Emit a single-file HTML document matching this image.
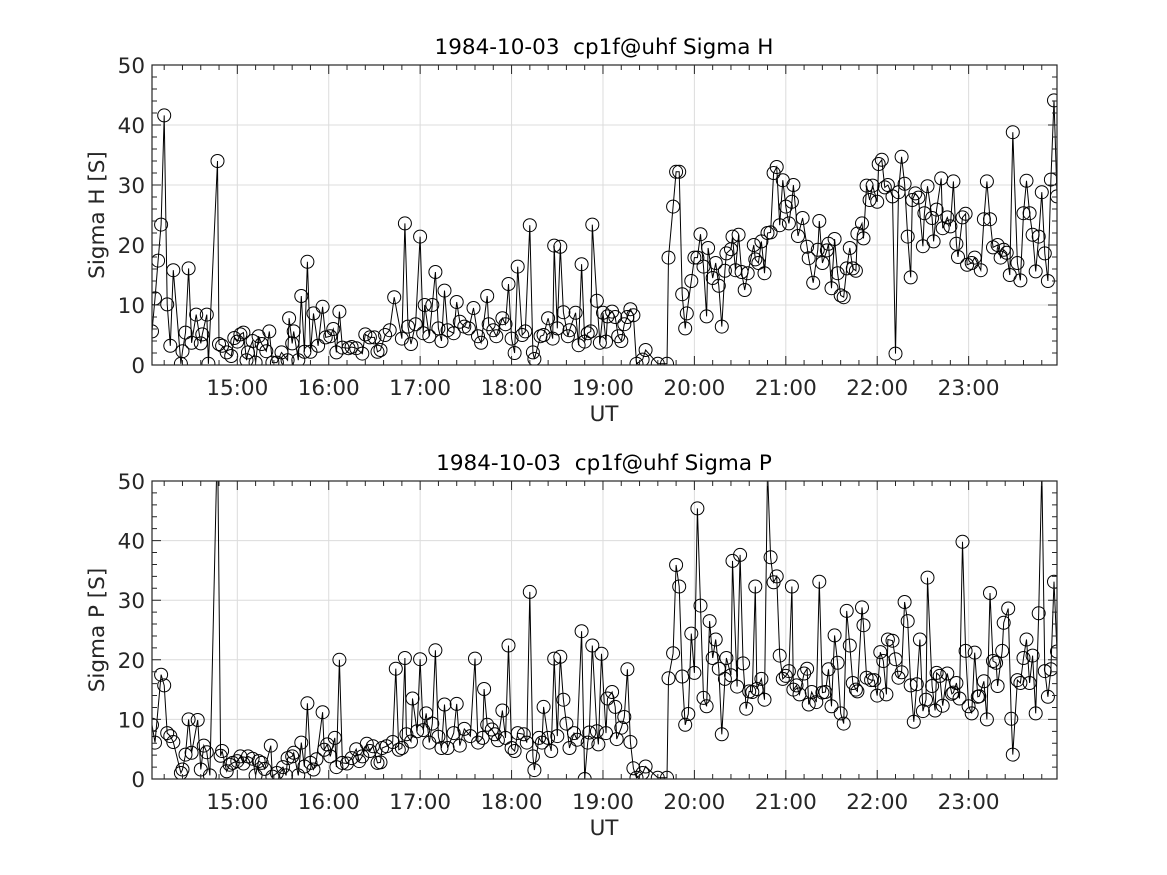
<!DOCTYPE html>
<html><head><meta charset="utf-8"><style>
html,body{margin:0;padding:0;background:#fff;}
svg{display:block;font-family:"DejaVu Sans","Liberation Sans",sans-serif;}
text{white-space:pre;}
</style></head><body>
<svg id="fig" width="1167" height="875" viewBox="0 0 1167 875" xmlns="http://www.w3.org/2000/svg"></svg>
<script>
// minutes since 14:00 UT
const timesH = [4,6,8,10,12,14,16,18,23,24,26,28,30,33,36,37,40,41,47,48,50,53,56,58,60,62,64,66,67,70,72,74,76,79,81,83,86,89,93,94,96,97,100,102,104,106,108,110,113,116,118,121,123,125,127,129,133,135,138,142,144,147,150,152,
154,157,160,163,168,170,172,174,177,180,182,183,186,188,190,192,194,196,198,202,204,206,209,212,215,218,220,224,225,228,230,234,236,238,240,242,244,247,249,252,254,255,259,261,264,267,268,270,272,274,277,278,282,284,286,288,290,292,293,296,298,300,302,303,306,308,310,312,314,316,318,320,322,326,328,336,342,343,346,348,350,352,354,355,358,360,362,364,366,368,369,372,374,376,378,380,381,384,385,387,389,391,393,395,399,400,402,404,406,408,410,412,414,416,418,420,422,424,425,428,431,434,435,438,441,442,444,447,448,450,452,454,456,458,460,462,464,466,467,470,471,473,475,477,480,481,483,485,487,490,492,494,496,498,500,502,503,505,507,510,511,513,516,517,519,522,523,526,528,530,532,533,536,538,539,542,544,548,550,552,554,556,559,561,563,565,567,569,572,574,576,578,580,582,584,586,588,590,592,594,596,598];
const sigmaH = [5.6,11.1,17.4,23.4,41.6,10.1,3.2,15.8,0.2,2.3,5.4,16.1,3.7,8.4,3.6,5.1,8.4,0.2,34,3.5,3.2,2.1,1.5,4.5,3.9,5.1,5.4,0.8,2.1,4,0.4,4.8,3.5,2.3,5.6,0.4,0.4,2.1,0.8,7.8,3.6,5.6,0.8,11.5,2.2,17.2,2.2,8.6,3.2,9.7,4.6,4.8,6,2.1,8.9,2.9,2.8,3,2.8,1.9,5.1,4.6,4.6,2.2,
2.5,5,5.8,11.3,4.4,23.6,6.4,3.5,6.8,21.4,5.3,10,4.8,10,15.5,6.1,4,12.4,5.8,5.3,10.5,7.2,6.4,6.1,9.5,4.8,3.7,11.5,6.8,5.8,4.8,7.8,6.8,13.5,4.4,2,16.4,5,5.6,23.3,2.1,1,4.8,5,7.8,4.4,19.9,6.1,19.7,8.8,4.8,5.8,8.7,3.3,16.8,3.9,5.3,5.6,23.4,10.7,3.7,8.7,3.9,8.1,8.9,8,4.8,4,6.8,8,9.3,8.3,0.2,0.9,2.5,0.2,0.2,17.9,26.4,32.2,32.2,11.8,6.1,8.6,14,17.9,17.9,21.8,16.4,8.1,19.5,14.5,17,13.2,6.4,15.7,18.6,19.3,21.4,15.8,21.7,15.5,12.5,15.3,20,17.6,17,20.6,15.3,22,22.1,32,33,23.3,30.8,26.4,23.6,27.2,30,21.5,24.5,19.7,17.8,13.7,19.2,24,17,19.1,20.2,12.8,21,15.3,11.6,11.3,16.1,19.5,16.1,15.7,21.9,23.6,21.1,29.9,27.5,29.9,27.2,33.5,34.2,29.6,30,28.1,1.9,28.8,34.7,30.2,21.4,14.6,27.5,28.6,27.9,19.8,25.3,29.8,24.5,20.6,25.9,31.1,22.8,24.6,23.1,30.6,20.2,18,24.6,25.2,16.7,17,17.9,15.8,24.3,30.6,24.3,19.6,20,17.9,19.2,18.7,15,38.8,17,14.1,25.3,30.7,25.3,21.7,15.6,21.4,28.8,18.6,14,30.9,44.1,28.1];
const timesP = [4,6,10,12,14,16,18,23,24,26,28,30,34,36,38,40,42,47,49,50,53,55,57,60,62,64,67,70,72,74,76,78,82,83,86,90,92,93,96,97,100,102,104,106,108,110,112,116,117,119,121,124,125,127,129,132,135,138,140,142,145,147,149,152,
154,155,158,162,164,166,168,170,171,174,175,178,180,182,184,186,188,190,192,194,196,198,202,204,206,209,213,216,218,221,222,224,227,229,231,234,236,238,240,242,244,248,250,252,254,255,258,260,261,264,266,268,270,272,274,276,278,281,283,286,288,290,291,293,296,297,299,302,303,306,308,309,312,314,316,318,320,322,326,328,336,342,343,346,348,350,352,354,356,358,360,362,364,366,368,370,372,374,376,378,380,381,384,385,388,390,392,394,396,398,400,401,404,406,408,410,412,414,416,418,420,422,424,425,427,429,432,434,435,437,440,442,444,446,448,450,452,454,456,458,460,462,464,466,467,470,471,473,476,478,480,482,484,486,487,490,492,494,496,498,500,502,504,506,508,510,512,513,516,518,519,521,523,526,529,530,532,534,536,538,540,542,544,546,547,550,552,554,556,558,559,562,563,566,568,569,572,574,576,578,580,582,584,586,588,590,592,594,596,598];
const sigmaP = [9.1,6.1,17.5,15.7,7.7,7.2,6.2,1,1.6,4.1,10,4.4,9.9,1.6,5.6,4.5,0.6,58,3.9,4.7,1.3,2.4,2.7,3,3.8,2.6,3.8,3.4,0.6,3,2.7,1.7,5.6,0.4,1,2,0.6,3.5,3.8,4.4,0.6,6.1,2.1,12.7,2.7,1.6,3.3,11.2,4.9,5.8,3.8,6.9,2,20,2.7,2.6,3.5,5,3,3.8,5.9,4.7,5.5,2.7,
2.8,5.2,5.5,6.2,18.5,4.9,5.2,20.3,7.5,6.3,13.5,8,20.1,8.2,11,6.1,9.3,21.6,7.1,5.2,12.5,5.2,7.7,12.6,5.6,8.4,7.2,20.2,6.1,6.9,15.1,9.1,8.3,7.5,6.5,11.5,6.9,22.4,5.2,4.7,7.7,7.5,6.1,31.4,3.8,1.5,6.9,6.1,12.1,6.9,4.7,20.2,7.2,20.5,13.3,9.3,5.2,7.7,6.6,24.8,0,6.1,7.8,22.4,8,5.8,21,7.7,13.5,14.6,12.1,6.7,8.6,10.4,18.4,6.2,1.8,0.2,1,2.1,0.2,0.2,16.9,21.1,35.9,32.3,17.2,9.1,10.9,24.4,17.8,45.4,29.1,13.6,12.2,26.5,20.3,23.4,18.5,7.5,16.8,20.3,17.4,36.6,15.5,37.6,19.4,11.8,14.7,14.6,32.3,15.1,16.8,13.3,52,37.2,33,34,20.7,16.8,17.3,18.1,32.3,15,15.7,14.2,17.7,18.5,12.5,14.6,12.9,33.1,14.5,14.6,18.4,12.2,24.1,19.5,11,9.3,28.2,22.4,16.1,15,14.7,28.8,25.8,17,16.6,16.6,14,21.3,19.8,14.2,23.4,23.2,20.1,17,17.9,29.7,26.5,15.7,9.6,15.9,23.4,11.4,13.3,33.8,15.6,11.5,17.8,17.3,12.3,17.7,14.3,14.5,16.1,13.5,39.8,21.5,12.2,11,21.2,13.8,13.9,16.4,10,31.2,19.8,19.5,15.6,21.5,26.2,28.6,10.1,4.1,16.6,16.1,20.3,23.4,16.1,20.7,11,27.8,52,18.1,13.8,18.4,33.1,21.4];
const xTickLabels = ["15:00","16:00","17:00","18:00","19:00","20:00","21:00","22:00","23:00"];
const yTickLabels = ["0","10","20","30","40","50"];

const NS = "http://www.w3.org/2000/svg";
const svg = document.getElementById("fig");
const X0 = 152, X1 = 1057, TMIN = 4, TMAX = 598;
function xs(m){ return X0 + (m - TMIN) * (X1 - X0) / (TMAX - TMIN); }
function mk(tag, attrs, parent){ const e = document.createElementNS(NS, tag); for (const k in attrs) e.setAttribute(k, attrs[k]); (parent||svg).appendChild(e); return e; }

function panel(key, top, bot, times, vals, title, ylabel){
  const ys = v => bot - v * (bot - top) / 50;
  const g = mk("g", {});
  
  
  for (let h = 1; h <= 9; h++){
    const x = xs(h*60);
    const l = mk("line", {x1:x, x2:x, y1:top, y2:bot, stroke:"#dcdcdc", "stroke-width":1}, g);
    
    
  }
  for (let v = 10; v < 50; v += 10){
    const y = ys(v);
    const l = mk("line", {x1:X0, x2:X1, y1:y, y2:y, stroke:"#dcdcdc", "stroke-width":1}, g);
    
    
  }
  const cid = "clip-" + key;
  const cp = mk("clipPath", {id: cid}, g);
  mk("rect", {x:X0, y:top, width:X1-X0, height:bot-top}, cp);
  const dg = mk("g", {"clip-path":"url(#"+cid+")"}, g);
  
  
  const pts = times.map((t,i) => xs(t).toFixed(1) + "," + ys(vals[i]).toFixed(1)).join(" ");
  const pl = mk("polyline", {points: pts, fill:"none", stroke:"#000", "stroke-width":1}, dg);
  
  
  times.forEach((t,i) => {
    const c = mk("circle", {cx: xs(t).toFixed(1), cy: ys(vals[i]).toFixed(1), r: 6.5, fill:"none", stroke:"#000", "stroke-width":1}, dg);
    
    
  });
  let d = "";
  for (let m = 12; m < TMAX; m += 12){
    const x = xs(m), L = (m % 60 === 0) ? 9 : 5;
    d += `M${x},${bot}v${-L}M${x},${top}v${L}`;
  }
  for (let v = 2; v < 50; v += 2){
    const y = ys(v), L = (v % 10 === 0) ? 9 : 5;
    d += `M${X0},${y}h${L}M${X1},${y}h${-L}`;
  }
  mk("path", {d, stroke:"#262626", "stroke-width":1, fill:"none"}, g);
  const box = mk("rect", {x:X0, y:top, width:X1-X0, height:bot-top, fill:"none", stroke:"#262626", "stroke-width":1.2}, g);
  
  
  xTickLabels.forEach((s,i) => {
    const t = mk("text", {x: xs((i+1)*60), y: bot+30, "text-anchor":"middle", "font-size":21.5, fill:"#262626"}, g);
    t.textContent = s;
    
    
  });
  yTickLabels.forEach((s,i) => {
    const t = mk("text", {x: X0-7, y: ys(i*10)+8, "text-anchor":"end", "font-size":21.5, fill:"#262626"}, g);
    t.textContent = s;
    
    
  });
  const tt = mk("text", {x: 604, y: top-11, "text-anchor":"middle", "font-size":21.5, fill:"#000"}, g);
  tt.textContent = title;
  
  
  const xl = mk("text", {x: 604, y: bot+56, "text-anchor":"middle", "font-size":21.5, fill:"#262626"}, g);
  xl.textContent = "UT";
  
  
  const cy = (top+bot)/2;
  const yl = mk("text", {x: 104, y: cy, "text-anchor":"middle", "font-size":21.5, fill:"#262626", transform:`rotate(-90 104 ${cy})`}, g);
  yl.textContent = ylabel;
  
  
}
panel("sigma-h", 65, 365, timesH, sigmaH, "1984-10-03  cp1f@uhf Sigma H", "Sigma H [S]");
panel("sigma-p", 481, 779, timesP, sigmaP, "1984-10-03  cp1f@uhf Sigma P", "Sigma P [S]");
</script>
</body></html>
